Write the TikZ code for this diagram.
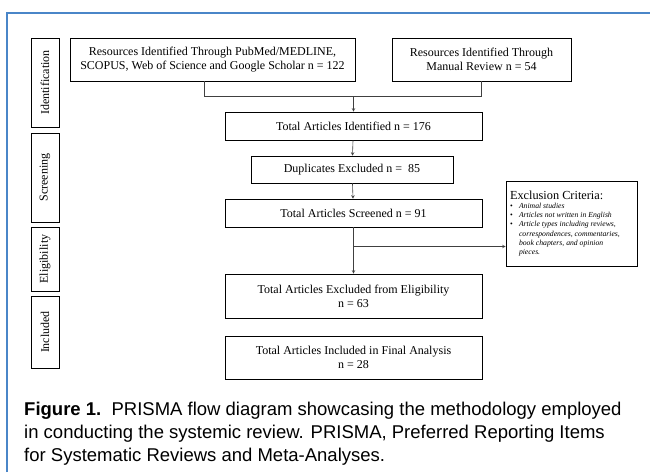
\documentclass[tikz,border=0pt]{standalone}
\usepackage{fontspec}
\setmainfont{Liberation Serif}
\newfontfamily\capfont{Liberation Sans}
\usepackage{xcolor}
\definecolor{framecol}{RGB}{74,134,200}
\newcommand{\crit}[1]{\makebox[9pt][l]{\upshape\textbullet}#1}

\begin{document}
\begin{tikzpicture}[x=1pt,y=-1pt,>=stealth,
    every node/.style={font=\fontsize{12}{14}\selectfont},
    stage/.style={draw,rotate=90,minimum height=28pt,inner sep=0pt},
    box/.style={draw,align=center,inner sep=2pt,line width=0.6pt},
    flow/.style={black!75,line width=0.6pt}]
    \useasboundingbox (0,0) rectangle (650,472);
    \draw[framecol,line width=2pt] (7,472) -- (7,13) -- (650,13);
    \node[stage,minimum width=89pt] (ident) at (45,82.5) {Identification};
    \node[stage,minimum width=89pt] (screen) at (45,177.5) {Screening};
    \node[stage,minimum width=64pt] (elig) at (45,259) {Eligibility};
    \node[stage,minimum width=72pt] (incl) at (45,332) {Included};
    \node[box,minimum width=285pt,minimum height=43pt] (pubmed) at (212.5,59.5) {Resources Identified Through PubMed/MEDLINE,\\SCOPUS, Web of Science and Google Scholar n = 122};
    \node[box,minimum width=179pt,minimum height=43pt] (manual) at (481.5,59.5) {Resources Identified Through\\Manual Review n = 54};
    \node[box,minimum width=257pt,minimum height=28pt] (total) at (353.5,126) {Total Articles Identified n = 176};
    \node[box,minimum width=202pt,minimum height=27pt] (dup) at (352,169.5) {Duplicates Excluded n = \ 85};
    \node[box,minimum width=257pt,minimum height=28pt] (screened) at (353.5,213) {Total Articles Screened n = 91};
    \node[box,minimum width=257pt,minimum height=44pt] (eligex) at (353.5,296) {Total Articles Excluded from Eligibility\\n = 63};
    \node[box,minimum width=257pt,minimum height=43pt] (final) at (353.5,357.5) {Total Articles Included in Final Analysis\\n = 28};
    \node[draw,line width=0.6pt,minimum width=131pt,minimum height=85pt,inner sep=0pt] (excl) at (571.5,223.5) {\parbox{123pt}{%
        \fontsize{12.3}{14}\selectfont Exclusion Criteria:\par
        \fontsize{7.7}{9.3}\selectfont\itshape
        \crit{Animal studies}\par
        \crit{Articles not written in English}\par
        \crit{Article types including reviews,}\par
        \hspace*{9pt}correspondences, commentaries,\par
        \hspace*{9pt}book chapters, and opinion\par
        \hspace*{9pt}pieces.}};
    \coordinate (join) at (353.5,96.5);
    \coordinate (split) at (353.5,246.5);
    \draw[flow] ([xshift=-8.5pt]pubmed.south) |- (join) -| (manual.south);
    \draw[flow,->] (join) -- (total);
    \draw[flow,->] (total) -- (dup);
    \draw[flow,->] (dup) -- (screened);
    \draw[flow,->] (screened) -- (eligex);
    \draw[flow,->] (split) -- (split -| excl.west);
    \node[anchor=north west,inner sep=0pt,align=left,font=\capfont\fontsize{18.5}{23}\selectfont] (cap) at (24,402) {\textbf{Figure 1.}\ \ PRISMA flow diagram showcasing the methodology employed\\in conducting the systemic review. PRISMA, Preferred Reporting Items\\for Systematic Reviews and Meta-Analyses.};
\end{tikzpicture}
\end{document}
